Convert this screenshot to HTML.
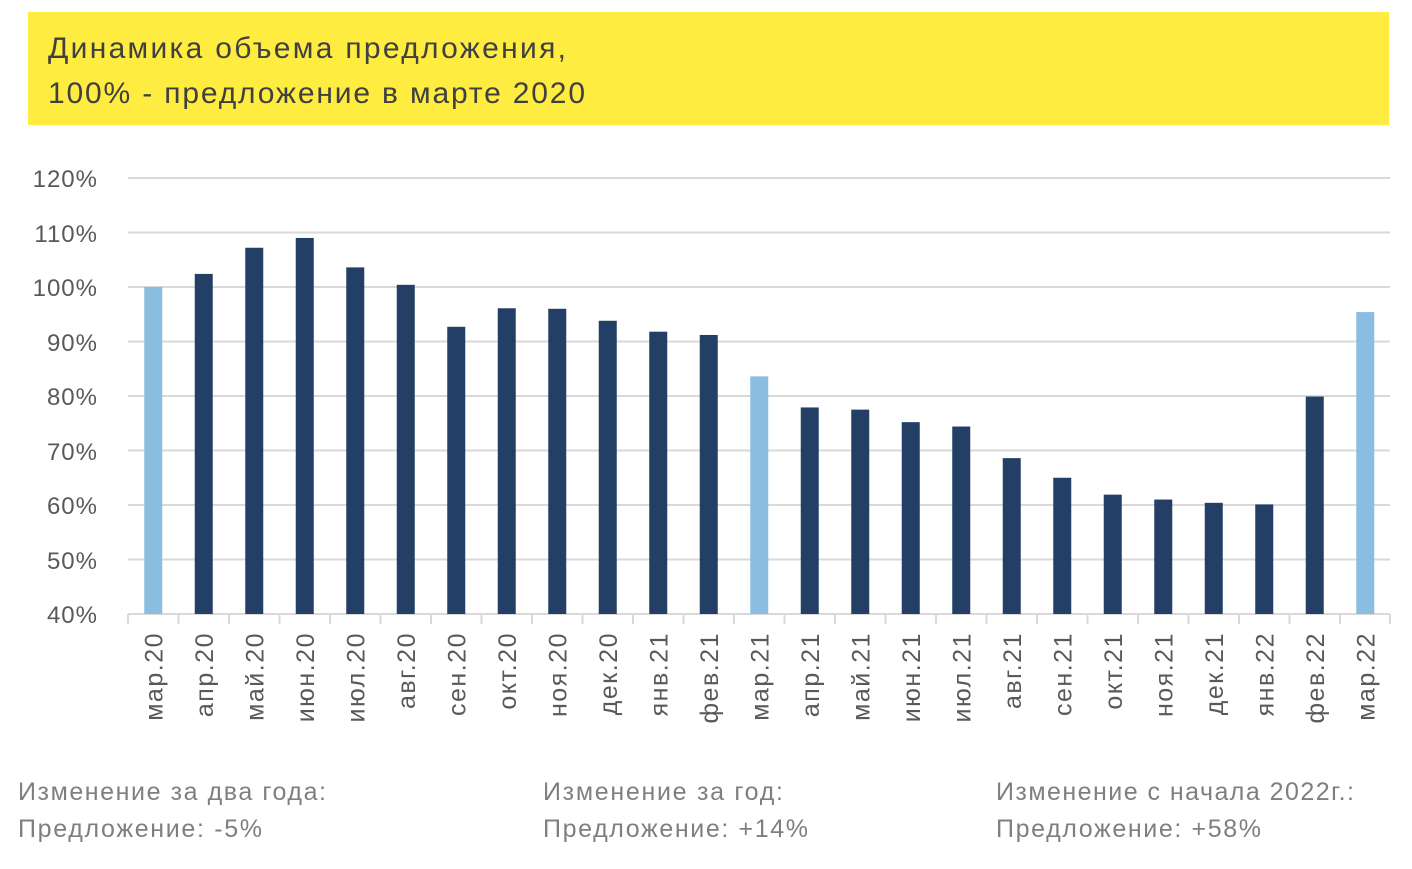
<!DOCTYPE html>
<html><head><meta charset="utf-8"><style>
body{margin:0;background:#fff;width:1412px;height:864px;overflow:hidden;font-family:"Liberation Sans","DejaVu Sans",sans-serif;}
</style></head><body>
<svg width="1412" height="864" xmlns="http://www.w3.org/2000/svg" font-family="Liberation Sans, DejaVu Sans, sans-serif">
<rect x="28" y="12" width="1361" height="113" fill="#FFEC40"/>
<text x="48" y="58" font-size="30" fill="#404040" textLength="518" lengthAdjust="spacing">Динамика объема предложения,</text>
<text x="48" y="103" font-size="30" fill="#404040" textLength="537" lengthAdjust="spacing">100% - предложение в марте 2020</text>
<g stroke="#d9d9d9" stroke-width="2">
<line x1="128" x2="1390" y1="178" y2="178"/><line x1="128" x2="1390" y1="232.5" y2="232.5"/>
<line x1="128" x2="1390" y1="287" y2="287"/><line x1="128" x2="1390" y1="341.5" y2="341.5"/>
<line x1="128" x2="1390" y1="396" y2="396"/><line x1="128" x2="1390" y1="450.5" y2="450.5"/>
<line x1="128" x2="1390" y1="505" y2="505"/><line x1="128" x2="1390" y1="559.5" y2="559.5"/>
<line x1="128" x2="1390" y1="614" y2="614"/>
</g>
<g font-size="24" fill="#595959" text-anchor="end" letter-spacing="1">
<text x="98" y="187">120%</text><text x="98" y="242">110%</text><text x="98" y="296">100%</text>
<text x="98" y="351">90%</text><text x="98" y="405">80%</text><text x="98" y="460">70%</text>
<text x="98" y="514">60%</text><text x="98" y="569">50%</text><text x="98" y="623">40%</text>
</g>
<g id="bars"></g>
<g id="ticks" stroke="#d9d9d9" stroke-width="2"></g>
<g id="labels" font-size="25" fill="#595959" letter-spacing="1.5"></g>
<g font-size="25" fill="#7f7f7f">
<text x="18" y="800" textLength="308" lengthAdjust="spacing">Изменение за два года:</text>
<text x="18" y="837" textLength="244" lengthAdjust="spacing">Предложение: -5%</text>
<text x="543" y="800" textLength="240" lengthAdjust="spacing">Изменение за год:</text>
<text x="543" y="837" textLength="265" lengthAdjust="spacing">Предложение: +14%</text>
<text x="996" y="800" textLength="358" lengthAdjust="spacing">Изменение с начала 2022г.:</text>
<text x="996" y="837" textLength="265" lengthAdjust="spacing">Предложение: +58%</text>
</g>
<script>
var v=[100,102.4,107.2,109,103.6,100.4,92.7,96.1,96,93.8,91.8,91.2,83.6,77.9,77.5,75.2,74.4,68.6,65,61.9,61,60.4,60.1,79.9,95.4];
var n=["мар.20","апр.20","май.20","июн.20","июл.20","авг.20","сен.20","окт.20","ноя.20","дек.20","янв.21","фев.21","мар.21","апр.21","май.21","июн.21","июл.21","авг.21","сен.21","окт.21","ноя.21","дек.21","янв.22","фев.22","мар.22"];
var ns="http://www.w3.org/2000/svg",b=document.getElementById("bars"),t=document.getElementById("ticks"),l=document.getElementById("labels");
var step=50.5;
for(var i=0;i<25;i++){
var cx=128+step*(i+0.5),y=614-(v[i]-40)*5.45;
var r=document.createElementNS(ns,"rect");r.setAttribute("x",cx-9);r.setAttribute("width",18);r.setAttribute("y",y);r.setAttribute("height",614-y);
r.setAttribute("fill",(i==0||i==12||i==24)?"#8BBDE0":"#243F66");b.appendChild(r);
var ln=document.createElementNS(ns,"line");var tx=128+step*i;ln.setAttribute("x1",tx);ln.setAttribute("x2",tx);ln.setAttribute("y1",614);ln.setAttribute("y2",624);t.appendChild(ln);
var tt=document.createElementNS(ns,"text");tt.setAttribute("transform","translate("+(cx+9)+",632) rotate(-90)");tt.setAttribute("text-anchor","end");tt.textContent=n[i];l.appendChild(tt);
}
var ln=document.createElementNS(ns,"line");ln.setAttribute("x1",1390);ln.setAttribute("x2",1390);ln.setAttribute("y1",614);ln.setAttribute("y2",624);t.appendChild(ln);
</script>
</svg>
</body></html>
